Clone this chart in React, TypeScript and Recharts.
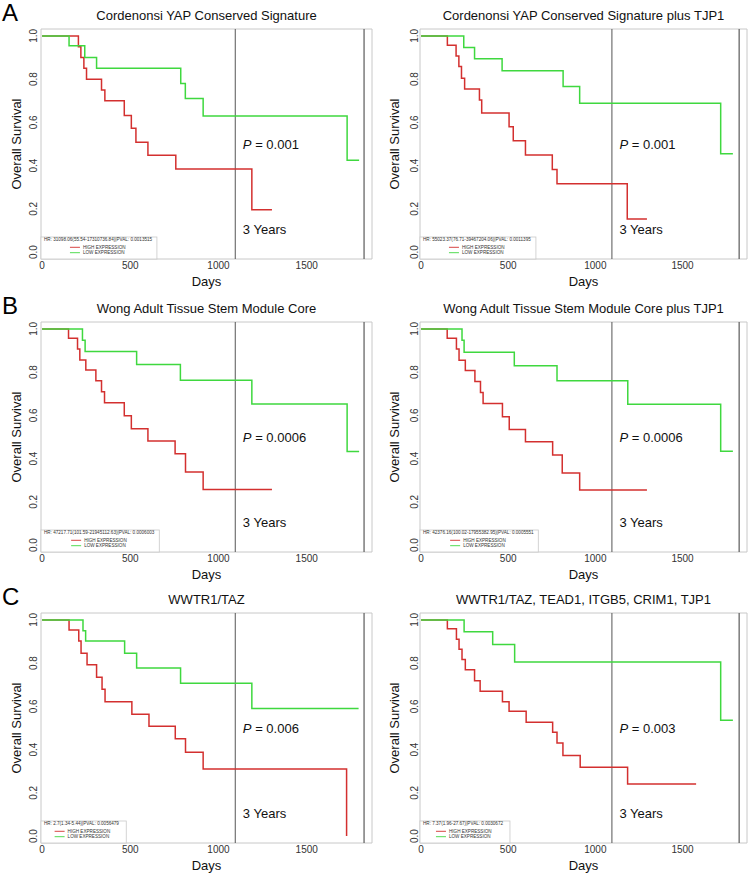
import React from 'react';
import { LineChart, Line, XAxis, YAxis, ReferenceLine, ReferenceArea, ReferenceDot } from 'recharts';

const FONT = '"Liberation Sans", Arial, Helvetica, sans-serif';
const RED = '#d3302f';
const GREEN = '#3fd83f';

const X_MIN = -6;
const X_MAX = 1870;
const Y_MIN = -0.032;
const Y_MAX = 1.032;
const X_TICKS = [0, 500, 1000, 1500];
const Y_TICKS = [0, 0.2, 0.4, 0.6, 0.8, 1.0];
const THREE_YEARS = 1095;
const FIVE_YEARS = 1825;
const LABEL_X = 1138;
const P_Y = 0.5;
const YEARS_Y = 0.105;

// A: Cordenonsi YAP Conserved Signature
const A1_HIGH_T = [0, 206, 220, 237, 252, 337, 356, 466, 506, 532, 600, 758, 1189, 1303];
const A1_HIGH_S = [1, 0.95, 0.9, 0.85, 0.8, 0.75, 0.7, 0.632, 0.573, 0.508, 0.448, 0.384, 0.196, 0.196];
const A1_LOW_T = [0, 153, 242, 309, 786, 812, 913, 1729, 1797];
const A1_LOW_S = [1, 0.954, 0.9, 0.85, 0.78, 0.71, 0.63, 0.425, 0.425];

// A: plus TJP1
const A2_HIGH_T = [0, 151, 201, 217, 232, 250, 335, 348, 505, 529, 599, 753, 780, 1183, 1296];
const A2_HIGH_S = [1, 0.957, 0.907, 0.858, 0.804, 0.754, 0.703, 0.643, 0.58, 0.515, 0.449, 0.382, 0.316, 0.153, 0.153];
const A2_LOW_T = [0, 245, 307, 465, 815, 910, 1719, 1789];
const A2_LOW_S = [1, 0.946, 0.894, 0.839, 0.766, 0.689, 0.455, 0.455];

// B: Wong Adult Tissue Stem Module Core
const B1_HIGH_T = [0, 150, 201, 214, 248, 305, 337, 354, 466, 506, 600, 754, 813, 913, 1303];
const B1_HIGH_S = [1, 0.957, 0.907, 0.856, 0.81, 0.76, 0.709, 0.658, 0.598, 0.538, 0.482, 0.423, 0.338, 0.257, 0.257];
const B1_LOW_T = [0, 229, 244, 536, 784, 1189, 1729, 1797];
const B1_LOW_S = [1, 0.947, 0.895, 0.835, 0.762, 0.653, 0.433, 0.433];

// B: plus TJP1
const B2_HIGH_T = [0, 150, 203, 218, 254, 309, 341, 356, 467, 506, 599, 755, 810, 910, 1296];
const B2_HIGH_S = [1, 0.957, 0.907, 0.855, 0.808, 0.757, 0.706, 0.655, 0.594, 0.535, 0.478, 0.417, 0.333, 0.255, 0.255];
const B2_LOW_T = [0, 235, 247, 535, 780, 1186, 1719, 1789];
const B2_LOW_S = [1, 0.947, 0.892, 0.83, 0.76, 0.652, 0.434, 0.434];

// C: WWTR1/TAZ
const C1_HIGH_T = [0, 153, 208, 221, 255, 309, 340, 357, 509, 606, 755, 813, 913, 1726];
const C1_HIGH_S = [1, 0.953, 0.903, 0.846, 0.793, 0.735, 0.679, 0.621, 0.564, 0.508, 0.45, 0.388, 0.31, 0];
const C1_LOW_T = [0, 232, 247, 468, 536, 785, 1189, 1794];
const C1_LOW_S = [1, 0.95, 0.902, 0.846, 0.777, 0.707, 0.59, 0.59];

// C: WWTR1/TAZ, TEAD1, ITGB5, CRIM1, TJP1
const C2_HIGH_T = [0, 151, 203, 218, 235, 254, 307, 339, 467, 505, 603, 755, 780, 814, 913, 1185, 1578];
const C2_HIGH_S = [1, 0.959, 0.911, 0.864, 0.817, 0.769, 0.719, 0.67, 0.622, 0.577, 0.527, 0.48, 0.431, 0.373, 0.319, 0.241, 0.241];
const C2_LOW_T = [0, 247, 411, 537, 1719, 1789];
const C2_LOW_S = [1, 0.945, 0.886, 0.805, 0.536, 0.536];

const zip = (t: number[], s: number[]) => t.map((v, i) => ({ t: v, s: s[i] }));

const PANELS = [
  { letter: 'A', title: 'Cordenonsi YAP Conserved Signature', p: '0.001', hr: 'HR: 31098.06(55.54-17310736.84)|PVAL: 0.0013515', high: zip(A1_HIGH_T, A1_HIGH_S), low: zip(A1_LOW_T, A1_LOW_S) },
  { letter: '', title: 'Cordenonsi YAP Conserved Signature plus TJP1', p: '0.001', hr: 'HR: 55023.37(76.71-39467204.06)|PVAL: 0.0011395', high: zip(A2_HIGH_T, A2_HIGH_S), low: zip(A2_LOW_T, A2_LOW_S) },
  { letter: 'B', title: 'Wong Adult Tissue Stem Module Core', p: '0.0006', hr: 'HR: 47217.71(101.59-21945112.63)|PVAL: 0.0006003', high: zip(B1_HIGH_T, B1_HIGH_S), low: zip(B1_LOW_T, B1_LOW_S) },
  { letter: '', title: 'Wong Adult Tissue Stem Module Core plus TJP1', p: '0.0006', hr: 'HR: 42376.16(100.02-17955382.95)|PVAL: 0.0005551', high: zip(B2_HIGH_T, B2_HIGH_S), low: zip(B2_LOW_T, B2_LOW_S) },
  { letter: 'C', title: 'WWTR1/TAZ', p: '0.006', hr: 'HR: 2.7(1.34-5.44)|PVAL: 0.0056479', high: zip(C1_HIGH_T, C1_HIGH_S), low: zip(C1_LOW_T, C1_LOW_S) },
  { letter: '', title: 'WWTR1/TAZ, TEAD1, ITGB5, CRIM1, TJP1', p: '0.003', hr: 'HR: 7.37(1.96-27.67)|PVAL: 0.0030672', high: zip(C2_HIGH_T, C2_HIGH_S), low: zip(C2_LOW_T, C2_LOW_S) },
];

const COLS = [
  { left: 0, width: 375, axisW: 41, plotW: 331, tickOff: 7, titleOff: 25 },
  { left: 375, width: 376, axisW: 45, plotW: 327, tickOff: 5.5, titleOff: 26 },
];
const ROWS = [
  { top: 0, plotTop: 29 },
  { top: 290, plotTop: 32 },
  { top: 580, plotTop: 33 },
];
const CHART_H = 295;
const PLOT_H = 230;
const XAXIS_H = 30;

function makeYTick(off: number) {
  return (props: any) => {
    const { x, y, payload } = props;
    const cx = x - off;
    return (
      <text x={cx} y={y} transform={`rotate(-90, ${cx}, ${y})`} textAnchor="middle" dominantBaseline="central"
        fontSize={10} fill="#333" fontFamily={FONT}>
        {Number(payload.value).toFixed(1)}
      </text>
    );
  };
}

function Decor({ viewBox, panel, col }: any) {
  const { x, y, width, height } = viewBox;
  const boxW = panel.hr.length * 2.36 + 5;
  const boxH = 22;
  const by = y + height - boxH;
  const gx = x + boxW / 2 - 29;
  return (
    <g fontFamily={FONT}>
      <text x={x + width / 2} y={y - 14} textAnchor="middle" dominantBaseline="central" fontSize={13} fill="#111">
        {panel.title}
      </text>
      {panel.letter && (
        <text x={x - 39} y={y - 16.5} dominantBaseline="central" fontSize={24} fill="#000">{panel.letter}</text>
      )}
      <text x={x - col.titleOff} y={y + height / 2} transform={`rotate(-90, ${x - col.titleOff}, ${y + height / 2})`}
        textAnchor="middle" dominantBaseline="central" fontSize={13} fill="#111">Overall Survival</text>
      <text x={x + width / 2} y={y + height + 22} textAnchor="middle" dominantBaseline="central" fontSize={13} fill="#111">Days</text>
      <rect x={x} y={by} width={boxW} height={boxH} fill="#fff" stroke="#c8c8c8" strokeWidth={0.8} />
      <text x={x + 3} y={by + 2.7} dominantBaseline="central" fontSize={4.6} fill="#333">{panel.hr}</text>
      <line x1={gx} x2={gx + 10} y1={by + 10.3} y2={by + 10.3} stroke={RED} strokeWidth={0.9} />
      <text x={gx + 13} y={by + 10.3} dominantBaseline="central" fontSize={4.6} fill="#333">HIGH EXPRESSION</text>
      <line x1={gx} x2={gx + 10} y1={by + 15.7} y2={by + 15.7} stroke={GREEN} strokeWidth={0.9} />
      <text x={gx + 13} y={by + 15.7} dominantBaseline="central" fontSize={4.6} fill="#333">LOW EXPRESSION</text>
    </g>
  );
}

function KMPanel({ panel, col, row }: any) {
  const top = row.plotTop;
  const right = col.width - col.axisW - col.plotW;
  const bottom = CHART_H - top - PLOT_H - XAXIS_H;
  return (
    <div style={{ position: 'absolute', left: col.left, top: row.top }}>
      <LineChart width={col.width} height={CHART_H} margin={{ top, right, bottom, left: 0 }}>
        <XAxis type="number" dataKey="t" domain={[X_MIN, X_MAX]} ticks={X_TICKS} allowDataOverflow
          height={XAXIS_H} tickLine={false} axisLine={false} tickSize={0} tickMargin={3}
          tick={{ fontSize: 10, fill: '#333', fontFamily: FONT }} />
        <YAxis type="number" dataKey="s" domain={[Y_MIN, Y_MAX]} ticks={Y_TICKS} allowDataOverflow
          width={col.axisW} tickLine={false} axisLine={false} tickSize={0} tickMargin={0}
          tick={makeYTick(col.tickOff)} />
        <ReferenceArea x1={X_MIN} x2={X_MAX} y1={Y_MIN} y2={Y_MAX} fill="none" stroke="#c8c8c8" strokeWidth={1}
          fillOpacity={0} label={(p: any) => <Decor viewBox={p.viewBox} panel={panel} col={col} />} />
        <ReferenceLine x={THREE_YEARS} stroke="#555" strokeWidth={1} />
        <ReferenceLine x={FIVE_YEARS} stroke="#666" strokeWidth={1.3} />
        <Line data={panel.high} dataKey="s" type="stepAfter" stroke={RED} strokeWidth={1.5} dot={false} isAnimationActive={false} />
        <Line data={panel.low} dataKey="s" type="stepAfter" stroke={GREEN} strokeWidth={1.5} dot={false} isAnimationActive={false} />
        <ReferenceDot x={LABEL_X} y={P_Y} r={0} shape={(p: any) => (
          <text x={p.cx} y={p.cy} dominantBaseline="central" fontSize={13} fill="#111" fontFamily={FONT}>
            <tspan fontStyle="italic">P</tspan> = {panel.p}
          </text>
        )} />
        <ReferenceDot x={LABEL_X} y={YEARS_Y} r={0} shape={(p: any) => (
          <text x={p.cx} y={p.cy} dominantBaseline="central" fontSize={13} fill="#111" fontFamily={FONT}>3 Years</text>
        )} />
      </LineChart>
    </div>
  );
}

export default function App() {
  return (
    <div style={{ position: 'absolute', left: 0, top: 0, width: 751, height: 875, background: '#fff', overflow: 'hidden' }}>
      {PANELS.map((panel, i) => (
        <KMPanel key={i} panel={panel} col={COLS[i % 2]} row={ROWS[Math.floor(i / 2)]} />
      ))}
    </div>
  );
}
